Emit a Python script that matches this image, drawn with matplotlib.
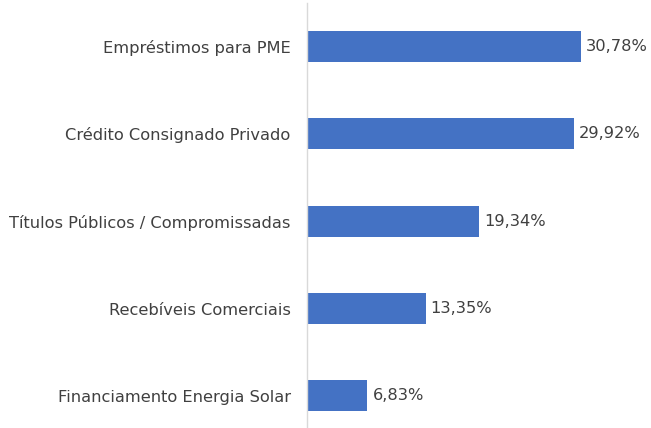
import matplotlib
matplotlib.use("Agg")
import matplotlib.pyplot as plt

categories = ["Empréstimos para PME", "Crédito Consignado Privado",
              "Títulos Públicos / Compromissadas", "Recebíveis Comerciais",
              "Financiamento Energia Solar"]
values = [30.78, 29.92, 19.34, 13.35, 6.83]
labels = ["30,78%", "29,92%", "19,34%", "13,35%", "6,83%"]

W, H = 651, 428
fig = plt.figure(figsize=(W/100, H/100), dpi=100)
x0, x1 = 306.5, 640
ax = fig.add_axes([x0/W, 1/H, (x1-x0)/W, 424/H])
ypos = list(range(len(categories)))
ax.barh(ypos, values, height=0.355, color="#4472C4")
ax.set_xlim(0, (x1-x0)/8.93)
ax.set_ylim(4.355, -0.498)
for s in ["top", "right", "bottom"]:
    ax.spines[s].set_visible(False)
ax.spines["left"].set_color("#D9D9D9")
ax.spines["left"].set_linewidth(1)
ax.set_xticks([])
ax.set_yticks(ypos)
ax.set_yticklabels(categories, fontsize=11.7, color="#404040")
ax.tick_params(axis="y", length=0, pad=11.5)
for y, v, l in zip(ypos, values, labels):
    ax.text(v + 0.55, y, l, va="center", ha="left", fontsize=11.7, color="#404040")
fig.savefig("out.png", dpi=100)
